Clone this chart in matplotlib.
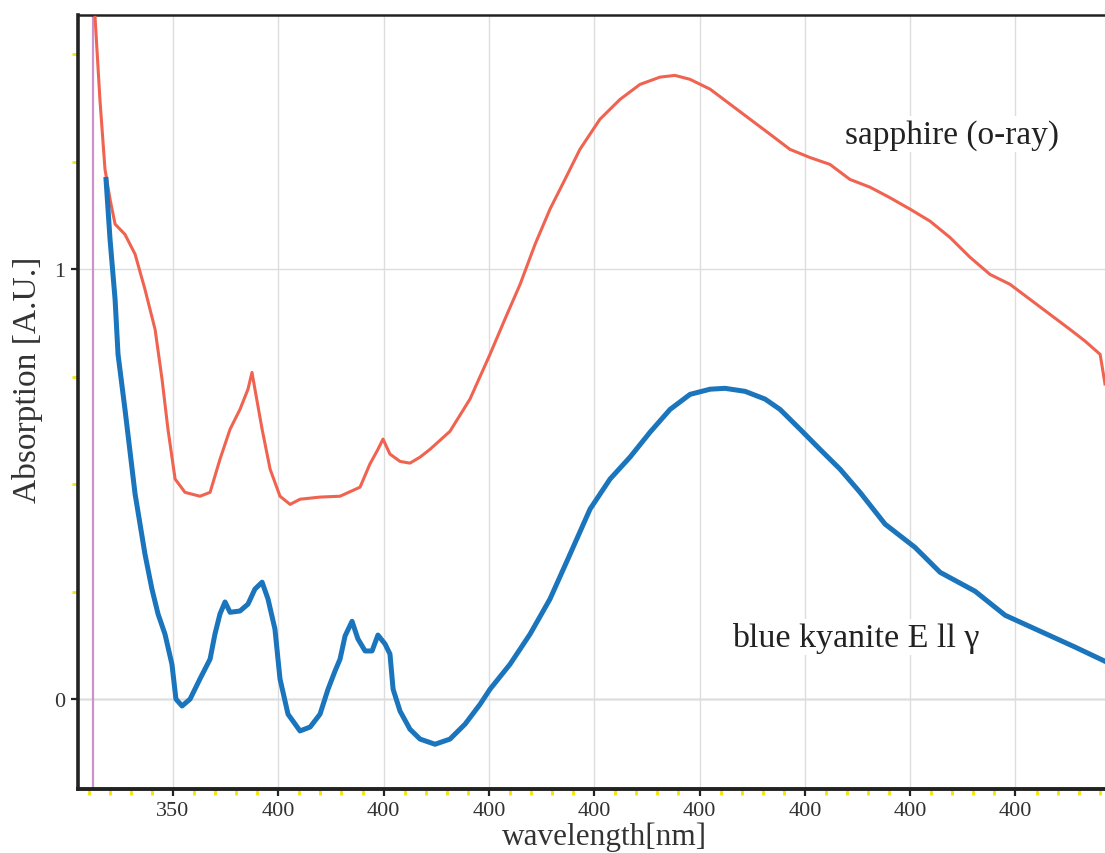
import matplotlib
matplotlib.use("Agg")
import matplotlib.pyplot as plt
from matplotlib.ticker import MultipleLocator

plt.rcParams['font.family'] = ['Liberation Serif', 'DejaVu Serif']

# sapphire (o-ray)
sapphire_nm = [313.0, 315.3, 317.7, 320.1, 322.5, 327.2, 332.0, 336.7, 341.5, 344.8,
               347.6, 351.0, 355.7, 362.8, 367.6, 372.3, 377.1, 381.8, 385.6, 387.5,
               388.9, 392.3, 396.1, 400.8, 405.6, 410.3, 419.8, 429.3, 438.8, 443.5,
               447.3, 449.7, 453.0, 457.8, 462.5, 467.3, 472.0, 481.5, 491.0, 500.5,
               507.6, 514.8, 521.9, 529.0, 536.1, 543.2, 552.7, 562.2, 571.7, 581.2,
               588.3, 595.4, 605.0, 614.5, 624.0, 633.5, 642.9, 652.4, 661.9, 671.4,
               680.9, 690.2, 699.9, 709.4, 718.9, 728.4, 737.9, 747.4, 756.9, 766.4,
               775.9, 783.0, 790.2, 792.5]
sapphire_abs = [1.586, 1.395, 1.233, 1.163, 1.105, 1.081, 1.035, 0.953, 0.860, 0.744,
                0.628, 0.512, 0.481, 0.472, 0.481, 0.558, 0.628, 0.674, 0.721, 0.760,
                0.721, 0.628, 0.535, 0.472, 0.453, 0.465, 0.470, 0.472, 0.493, 0.547,
                0.581, 0.605, 0.570, 0.553, 0.549, 0.563, 0.581, 0.623, 0.698, 0.802,
                0.884, 0.965, 1.058, 1.140, 1.209, 1.279, 1.349, 1.395, 1.430, 1.447,
                1.451, 1.442, 1.419, 1.384, 1.349, 1.314, 1.279, 1.260, 1.244, 1.209,
                1.191, 1.167, 1.140, 1.112, 1.074, 1.028, 0.988, 0.965, 0.930, 0.895,
                0.860, 0.833, 0.802, 0.733]

# blue kyanite E ll gamma
kyanite_nm = [318.2, 320.1, 322.5, 323.9, 327.2, 332.0, 336.7, 340.0, 342.9, 346.2,
              349.5, 351.4, 354.3, 358.1, 362.8, 367.6, 369.9, 372.3, 374.7, 377.1,
              381.8, 385.6, 388.9, 392.3, 395.1, 398.4, 400.8, 404.6, 410.3, 415.1,
              419.8, 423.6, 426.9, 429.3, 431.7, 435.0, 437.8, 441.2, 444.5, 447.3,
              450.7, 453.0, 454.5, 457.8, 462.5, 467.3, 474.4, 481.5, 488.7, 495.8,
              500.5, 510.0, 519.5, 529.0, 538.5, 548.0, 557.5, 567.0, 576.5, 586.0,
              595.5, 605.0, 612.1, 621.6, 631.1, 638.2, 647.7, 657.2, 666.7, 676.2,
              688.1, 702.3, 714.2, 730.8, 745.1, 761.7, 778.3, 792.5]
kyanite_abs = [1.209, 1.070, 0.930, 0.802, 0.674, 0.477, 0.337, 0.256, 0.198, 0.151,
               0.081, 0.000, -0.016, 0.000, 0.047, 0.093, 0.151, 0.198, 0.226, 0.202,
               0.205, 0.221, 0.256, 0.272, 0.233, 0.163, 0.047, -0.035, -0.074, -0.065,
               -0.035, 0.023, 0.065, 0.093, 0.147, 0.181, 0.140, 0.112, 0.112, 0.149,
               0.128, 0.105, 0.023, -0.028, -0.070, -0.093, -0.105, -0.093, -0.058, -0.012,
               0.023, 0.081, 0.151, 0.233, 0.337, 0.442, 0.512, 0.563, 0.621, 0.674,
               0.709, 0.721, 0.723, 0.716, 0.698, 0.674, 0.628, 0.581, 0.535, 0.481,
               0.407, 0.353, 0.295, 0.251, 0.195, 0.158, 0.121, 0.088]

marker_nm = 312.0
xtick_vals = [350, 400, 450, 500, 550, 600, 650, 700, 750]
xtick_labels = ['350', '400', '400', '400', '400', '400', '400', '400', '400']
ytick_vals = [0, 1]

fig = plt.figure(figsize=(11.05, 8.54), dpi=100)
ax = fig.add_axes([0.0706, 0.075, 0.9294, 0.906])

ax.set_xlim(304.9, 792.5)
ax.set_ylim(-0.209, 1.591)

ax.set_xticks(xtick_vals)
ax.set_xticklabels(xtick_labels)
ax.set_yticks(ytick_vals)
ax.xaxis.set_minor_locator(MultipleLocator(10))
ax.yaxis.set_minor_locator(MultipleLocator(0.25))

ax.grid(True, which='major', color='#dddddd', linewidth=1.0)
ax.axhline(0, color='#aaaaaa', linewidth=1.0, zorder=1)
ax.axvline(marker_nm, color='#cc92cc', linewidth=1.6, zorder=2)

ax.plot(sapphire_nm, sapphire_abs, color='#ef6350', linewidth=2.2, zorder=3)
ax.plot(kyanite_nm, kyanite_abs, color='#1a75bc', linewidth=3.6, zorder=3)

ax.text(720, 1.314, 'sapphire (o-ray)', fontsize=24, color='#222222',
        ha='center', va='center', zorder=4,
        bbox=dict(facecolor='white', edgecolor='none', pad=2))
ax.text(674, 0.144, 'blue kyanite E ll γ', fontsize=24.5, color='#222222',
        ha='center', va='center', zorder=4,
        bbox=dict(facecolor='white', edgecolor='none', pad=2))

for side in ['left', 'bottom', 'top']:
    ax.spines[side].set_color('#222222')
ax.spines['left'].set_linewidth(2.6)
ax.spines['bottom'].set_linewidth(2.8)
ax.spines['top'].set_linewidth(1.8)
ax.spines['right'].set_visible(False)

ax.tick_params(which='major', direction='out', length=5, width=1.6,
               color='#222222', labelsize=16, labelcolor='#333333', pad=4)
ax.tick_params(which='minor', direction='out', length=4, width=2.0, color='#f7e400')

ax.text(0.513, -0.0425, 'wavelength[nm]', transform=ax.transAxes, fontsize=22.5,
        color='#333333', ha='center', va='top')
ax.text(-0.049, 0.53, 'Absorption [A.U.]', transform=ax.transAxes, fontsize=24,
        color='#333333', ha='center', va='center', rotation=90)

fig.savefig('out.png', dpi=100)
